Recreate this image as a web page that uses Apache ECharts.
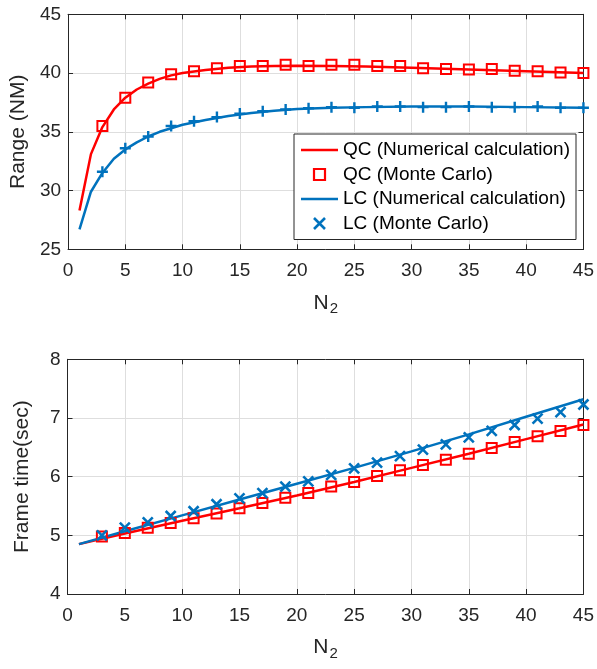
<!DOCTYPE html>
<html>
<head>
<meta charset="utf-8">
<script src="https://cdn.jsdelivr.net/npm/echarts@6/dist/echarts.min.js"></script>
<style>
html,body{margin:0;padding:0;background:#fff;}
#c{width:597px;height:669px;}
</style>
</head>
<body>
<div id="c"></div>
<script>
// ---- Data ----
var lineN = [1,2,3,4,5,6,7,8,9,10,12,14,16,18,20,23,26,30,35,40,45];
var qcRangeLine = [28.3,33.1,35.4,36.9,37.9,38.6,39.1,39.5,39.8,40.0,40.25,40.45,40.55,40.6,40.62,40.6,40.55,40.45,40.3,40.15,40.0];
var lcRangeLine = [26.7,29.9,31.5,32.7,33.5,34.1,34.6,35.0,35.3,35.6,36.0,36.35,36.6,36.8,36.95,37.05,37.1,37.15,37.15,37.1,37.05];

var mcN = [3,5,7,9,11,13,15,17,19,21,23,25,27,29,31,33,35,37,39,41,43,45];
var qcRangeMC = [35.5,37.9,39.2,39.9,40.15,40.4,40.6,40.6,40.7,40.6,40.7,40.7,40.6,40.6,40.4,40.35,40.3,40.35,40.2,40.15,40.05,40.0];
var lcRangeMC = [31.6,33.6,34.6,35.5,35.9,36.25,36.55,36.75,36.9,37.0,37.1,37.05,37.15,37.15,37.1,37.1,37.15,37.1,37.1,37.15,37.05,37.05];

var frameLineN = [1,5,10,15,20,25,30,35,40,45];
var qcFrameLine = [4.85,5.03,5.25,5.46,5.68,5.91,6.15,6.39,6.64,6.89];
var lcFrameLine = [4.85,5.07,5.34,5.61,5.88,6.15,6.43,6.72,7.02,7.32];
var qcFrameMC = [4.98,5.04,5.13,5.21,5.29,5.37,5.46,5.55,5.64,5.72,5.83,5.91,6.01,6.11,6.20,6.29,6.39,6.49,6.59,6.69,6.78,6.88];
var lcFrameMC = [5.0,5.13,5.22,5.33,5.41,5.53,5.63,5.72,5.83,5.92,6.03,6.14,6.24,6.35,6.46,6.55,6.67,6.78,6.88,6.99,7.10,7.23];

var xTicks = [0,5,10,15,20,25,30,35,40,45];
var names = ['QC (Numerical calculation)','QC (Monte Carlo)','LC (Numerical calculation)','LC (Monte Carlo)'];

// ---- Helpers ----
function pairs(xs, ys){ return xs.map(function(x,i){ return [x, ys[i]]; }); }
var RED = '#ff0000', BLUE = '#0072bd', INK = '#262626', GRIDC = '#dedede';
var FONT = 'Liberation Sans, Arial, sans-serif';
var PLUS = 'path://M5,0L5,10M0,5L10,5';
var CROSS = 'path://M0,0L10,10M10,0L0,10';
var SQUARE = 'path://M0,0L10,0L10,10L0,10Z';
var BAR = 'path://M0,0L37,0L37,2.5L0,2.5Z';

function xAxisPair(gi){
  var nameRich = {
    n:{fontSize:21, fontFamily:FONT, color:INK, padding:[0,0,0,0]},
    s:{fontSize:15, fontFamily:FONT, color:INK, padding:[12,0,0,1]}
  };
  return [{
    type:'value', gridIndex:gi, min:0, max:45, interval:5, position:'bottom',
    name:'{n|N}{s|2}', nameLocation:'middle', nameGap:40,
    nameTextStyle:{rich:nameRich},
    axisLine:{show:true, onZero:false, lineStyle:{color:INK, width:1}},
    axisTick:{show:true, inside:true, length:5, lineStyle:{color:INK}},
    axisLabel:{show:true, margin:12, fontSize:19, fontFamily:FONT, color:INK,
      formatter:function(v){ return xTicks.indexOf(v)>=0 ? String(v) : ''; }},
    splitLine:{show:true, lineStyle:{color:GRIDC, width:1}}
  },{
    type:'value', gridIndex:gi, min:0, max:45, interval:5, position:'top',
    axisLine:{show:true, onZero:false, lineStyle:{color:INK, width:1}},
    axisTick:{show:true, inside:true, length:5, lineStyle:{color:INK}},
    axisLabel:{show:false}, splitLine:{show:false}
  }];
}
function yAxisPair(gi, min, max, interval, name, gap){
  return [{
    type:'value', gridIndex:gi, min:min, max:max, interval:interval, position:'left',
    name:name, nameLocation:'middle', nameGap:gap,
    nameTextStyle:{fontSize:21, fontFamily:FONT, color:INK},
    axisLine:{show:true, onZero:false, lineStyle:{color:INK, width:1}},
    axisTick:{show:true, inside:true, length:5, lineStyle:{color:INK}},
    axisLabel:{show:true, margin:7, fontSize:19, fontFamily:FONT, color:INK},
    splitLine:{show:true, lineStyle:{color:GRIDC, width:1}}
  },{
    type:'value', gridIndex:gi, min:min, max:max, interval:interval, position:'right',
    axisLine:{show:true, onZero:false, lineStyle:{color:INK, width:1}},
    axisTick:{show:true, inside:true, length:5, lineStyle:{color:INK}},
    axisLabel:{show:false}, splitLine:{show:false}
  }];
}

var xs = xAxisPair(0).concat(xAxisPair(1));
var ys = yAxisPair(0, 25, 45, 5, 'Range (NM)', 35).concat(yAxisPair(1, 4, 8, 1, 'Frame time(sec)', 35));

function lineSeries(name, gi, xd, yd, color){
  return {type:'line', name:name, xAxisIndex:gi*2, yAxisIndex:gi*2, data:pairs(xd,yd),
    symbol:'none', showSymbol:false, smooth:false, clip:false, z:2,
    lineStyle:{color:color, width:2.5}, itemStyle:{color:color}};
}
function markSeries(name, gi, xd, yd, color, sym, size, bw){
  return {type:'scatter', name:name, xAxisIndex:gi*2, yAxisIndex:gi*2, data:pairs(xd,yd),
    symbol:sym, symbolSize:size, clip:false, z:3,
    itemStyle:{color:'none', borderColor:color, borderWidth:bw, opacity:1}};
}

var option = {
  animation:false,
  backgroundColor:'#ffffff',
  grid:[
    {left:67.5, right:11.5, top:14.3, height:235},
    {left:67.5, right:11.5, top:359.3, height:234.7}
  ],
  xAxis: xs,
  yAxis: ys,
  legend:{
    left:294, top:134, orient:'vertical',
    backgroundColor:'#ffffff', borderColor:INK, borderWidth:1,
    padding:[6,6,6,7], itemGap:4.5, itemWidth:37, itemHeight:11,
    textStyle:{fontSize:19, fontFamily:FONT, color:'#000', lineHeight:20},
    z:10,
    data:[
      {name:names[0], icon:BAR, itemStyle:{color:RED, borderWidth:0}},
      {name:names[1], icon:SQUARE, itemStyle:{color:'none', borderColor:RED, borderWidth:2.2}},
      {name:names[2], icon:BAR, itemStyle:{color:BLUE, borderWidth:0}},
      {name:names[3], icon:CROSS, itemStyle:{color:'none', borderColor:BLUE, borderWidth:2.6}}
    ],
    selectedMode:false
  },
  series:[
    lineSeries(names[0], 0, lineN, qcRangeLine, RED),
    markSeries(names[1], 0, mcN, qcRangeMC, RED, SQUARE, 10, 2),
    lineSeries(names[2], 0, lineN, lcRangeLine, BLUE),
    markSeries(names[3], 0, mcN, lcRangeMC, BLUE, PLUS, 11, 2.4),
    lineSeries(names[0], 1, frameLineN, qcFrameLine, RED),
    markSeries(names[1], 1, mcN, qcFrameMC, RED, SQUARE, 10, 2),
    lineSeries(names[2], 1, frameLineN, lcFrameLine, BLUE),
    markSeries(names[3], 1, mcN, lcFrameMC, BLUE, CROSS, 10, 2.6)
  ]
};
var chart = echarts.init(document.getElementById('c'), null, {renderer:'canvas'});
chart.setOption(option);
</script>
</body>
</html>
